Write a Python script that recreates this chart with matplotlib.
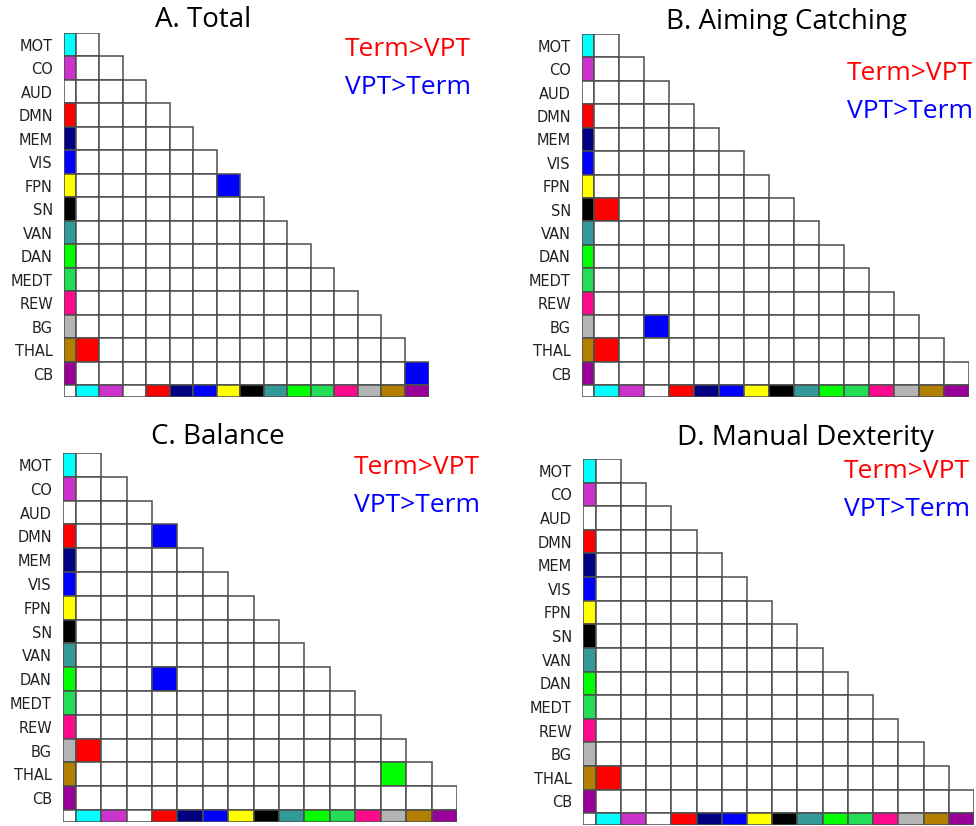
import matplotlib
matplotlib.use("Agg")
import matplotlib.pyplot as plt
from matplotlib.patches import Rectangle

networks = ["MOT", "CO", "AUD", "DMN", "MEM", "VIS", "FPN", "SN",
            "VAN", "DAN", "MEDT", "REW", "BG", "THAL", "CB"]
net_colors = ["#00ffff", "#cc33cc", "#ffffff", "#ff0000", "#000080",
              "#0000ff", "#ffff00", "#000000", "#339999", "#00ff00",
              "#22dd55", "#ff0a8c", "#b4b4b4", "#b27f00", "#990099"]

titles = ["A. Total", "B. Aiming Catching", "C. Balance", "D. Manual Dexterity"]

# significant cells: (row network, column network, colour)
sig_total = [("FPN", "FPN", "#0000ff"), ("THAL", "MOT", "#ff0000"),
             ("CB", "CB", "#0000ff")]
sig_aiming = [("SN", "MOT", "#ff0000"), ("BG", "AUD", "#0000ff"),
              ("THAL", "MOT", "#ff0000")]
sig_balance = [("DMN", "DMN", "#0000ff"), ("DAN", "DMN", "#0000ff"),
               ("BG", "MOT", "#ff0000"), ("THAL", "BG", "#00ff00")]
sig_dexterity = [("THAL", "MOT", "#ff0000")]
sig_all = [sig_total, sig_aiming, sig_balance, sig_dexterity]

# panel boxes in pixels: left, top, right, bottom
boxes = [(64, 33, 428.5, 397), (582, 34, 969, 397),
         (63, 453, 457, 822), (583, 459, 974, 825)]
title_pos = [(203, 20), (786, 22), (218, 437), (805, 438)]
legend_pos = [(345, 50, 88), (847, 73, 111), (354, 467, 505), (844, 472, 510)]

W, H = 976, 826
fig = plt.figure(figsize=(W / 100, H / 100), dpi=100)

edge = "#4d4d4d"
lw = 1.1
n = len(networks)

for k in range(4):
    l, t, r, b = boxes[k]
    ax = fig.add_axes([l / W, 1 - b / H, (r - l) / W, (b - t) / H])
    ax.set_xlim(-0.5, n)
    ax.set_ylim(n + 0.5, 0)

    sig = {(networks.index(a), networks.index(c)): col for a, c, col in sig_all[k]}

    for i in range(n):
        # left colour strip
        ax.add_patch(Rectangle((-0.5, i), 0.5, 1, facecolor=net_colors[i],
                               edgecolor=edge, lw=lw))
        # lower triangle cells
        for j in range(i + 1):
            fc = sig.get((i, j), "white")
            ax.add_patch(Rectangle((j, i), 1, 1, facecolor=fc,
                                   edgecolor=edge, lw=lw))
    # bottom colour strip
    ax.add_patch(Rectangle((-0.5, n), 0.5, 0.5, facecolor="white",
                           edgecolor=edge, lw=lw))
    for j in range(n):
        ax.add_patch(Rectangle((j, n), 1, 0.5, facecolor=net_colors[j],
                               edgecolor=edge, lw=lw))

    ax.set_yticks([i + 0.5 for i in range(n)])
    ax.set_yticklabels(networks, fontsize=10.5, color="#222222",
                       family="DejaVu Sans")
    ax.tick_params(axis="y", length=0, pad=8)
    ax.set_xticks([])
    for s in ax.spines.values():
        s.set_visible(False)
    ax.patch.set_visible(False)

    tx, ty = title_pos[k]
    fig.text(tx / W, 1 - ty / H, titles[k], ha="center", va="center",
             fontsize=20, family="Open Sans", color="black")
    lx, y1, y2 = legend_pos[k]
    fig.text(lx / W, 1 - y1 / H, "Term>VPT", ha="left", va="center",
             fontsize=19, family="Open Sans", color="#ff0000")
    fig.text(lx / W, 1 - y2 / H, "VPT>Term", ha="left", va="center",
             fontsize=19, family="Open Sans", color="#0000ff")

fig.savefig("out.png", dpi=100)
